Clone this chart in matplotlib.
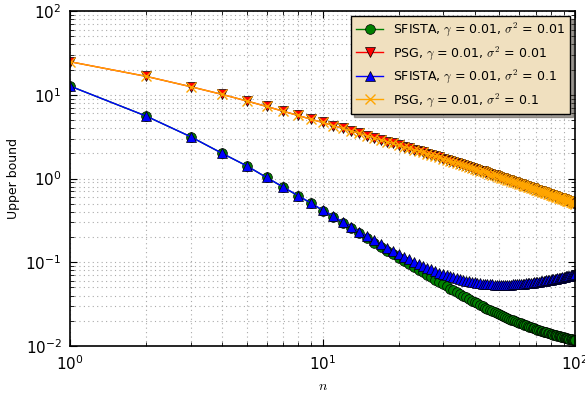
import numpy as np
import matplotlib
matplotlib.use('Agg')
import matplotlib.pyplot as plt

plt.rcParams['mathtext.fontset'] = 'cm'
plt.rcParams['xtick.direction'] = 'in'
plt.rcParams['ytick.direction'] = 'in'

# iteration counter n = 1..100
n = np.arange(1, 101)

# SFISTA, gamma = 0.01, sigma^2 = 0.01
sfista_001 = [
    12.7, 5.57, 3.16, 2.00, 1.42, 1.03, 0.785, 0.62, 0.505, 0.415,
    0.350, 0.297, 0.256, 0.222, 0.195, 0.172, 0.153, 0.137, 0.124, 0.113,
    0.1035, 0.0952, 0.0879, 0.0814, 0.0756, 0.0705, 0.0658, 0.0617, 0.0579, 0.0545,
    0.0514, 0.0486, 0.0461, 0.0438, 0.0417, 0.0398, 0.0380, 0.0364, 0.0349, 0.0335,
    0.0322, 0.0310, 0.0299, 0.0288, 0.0279, 0.0270, 0.0261, 0.0253, 0.0246, 0.0239,
    0.02328, 0.02269, 0.02214, 0.02161, 0.02112, 0.02064, 0.02019, 0.01976, 0.01936, 0.01898,
    0.01861, 0.01826, 0.01792, 0.01760, 0.01729, 0.01701, 0.01673, 0.01646, 0.01621, 0.01596,
    0.01573, 0.01550, 0.01529, 0.01508, 0.01488, 0.01470, 0.01451, 0.01434, 0.01417, 0.01401,
    0.01385, 0.01371, 0.01356, 0.01342, 0.01329, 0.01316, 0.01303, 0.01292, 0.01280, 0.01269,
    0.01258, 0.01249, 0.01239, 0.01229, 0.01220, 0.01212, 0.01203, 0.01195, 0.01187, 0.01179,
]

# SFISTA, gamma = 0.01, sigma^2 = 0.1
sfista_01 = [
    12.70, 5.57, 3.16, 2.00, 1.42, 1.03, 0.789, 0.625, 0.510, 0.421,
    0.357, 0.304, 0.264, 0.230, 0.204, 0.182, 0.163, 0.148, 0.135, 0.125,
    0.1161, 0.1084, 0.1017, 0.0958, 0.0906, 0.0861, 0.0820, 0.0785, 0.0753, 0.0725,
    0.0700, 0.0678, 0.0659, 0.0642, 0.0627, 0.0614, 0.0602, 0.0592, 0.0583, 0.0575,
    0.0568, 0.0562, 0.0557, 0.0552, 0.0549, 0.0546, 0.0543, 0.0541, 0.0540, 0.0539,
    0.0539, 0.0539, 0.0539, 0.0540, 0.0541, 0.0542, 0.0544, 0.0546, 0.0548, 0.0550,
    0.0552, 0.0555, 0.0557, 0.0560, 0.0563, 0.0566, 0.0569, 0.0573, 0.0576, 0.0580,
    0.0583, 0.0587, 0.0591, 0.0595, 0.0599, 0.0603, 0.0607, 0.0611, 0.0616, 0.0620,
    0.0625, 0.0629, 0.0634, 0.0638, 0.0643, 0.0648, 0.0652, 0.0657, 0.0662, 0.0667,
    0.0672, 0.0677, 0.0682, 0.0687, 0.0692, 0.0697, 0.0702, 0.0708, 0.0713, 0.0718,
]

# PSG, gamma = 0.01, sigma^2 = 0.01
psg_001 = [
    24.8, 16.6, 12.5, 10.1, 8.45, 7.25, 6.35, 5.66, 5.10, 4.67,
    4.295, 3.973, 3.698, 3.459, 3.249, 3.064, 2.900, 2.753, 2.621, 2.501,
    2.397, 2.302, 2.214, 2.134, 2.060, 1.984, 1.913, 1.847, 1.785, 1.728,
    1.674, 1.623, 1.576, 1.531, 1.488, 1.448, 1.410, 1.374, 1.340, 1.307,
    1.276, 1.246, 1.218, 1.191, 1.165, 1.139, 1.114, 1.091, 1.068, 1.046,
    1.025, 1.005, 0.985, 0.966, 0.948, 0.931, 0.914, 0.897, 0.882, 0.866,
    0.851, 0.837, 0.823, 0.810, 0.797, 0.784, 0.772, 0.760, 0.748, 0.737,
    0.726, 0.716, 0.705, 0.695, 0.685, 0.676, 0.667, 0.657, 0.649, 0.640,
    0.632, 0.623, 0.615, 0.608, 0.600, 0.592, 0.585, 0.578, 0.571, 0.564,
    0.557, 0.551, 0.545, 0.538, 0.532, 0.526, 0.520, 0.514, 0.509, 0.503,
]

# PSG, gamma = 0.01, sigma^2 = 0.1 (sits on top of the other PSG curve)
psg_01 = list(psg_001)

fig = plt.figure(figsize=(5.85, 3.99), dpi=100)
ax = fig.add_axes([0.1197, 0.1328, 0.8633, 0.8396])

ax.loglog(n, sfista_001, '-o', color='g', mec='k', mew=0.5, ms=7, lw=1,
          label=r'SFISTA, $\gamma$ = 0.01, $\sigma^2$ = 0.01')
ax.loglog(n, psg_001, '-v', color='r', mec='k', mew=0.5, ms=7, lw=1,
          label=r'PSG, $\gamma$ = 0.01, $\sigma^2$ = 0.01')
ax.loglog(n, sfista_01, '-^', color='b', mec='k', mew=0.5, ms=7, lw=1,
          label=r'SFISTA, $\gamma$ = 0.01, $\sigma^2$ = 0.1')
ax.loglog(n, psg_01, '-x', color='#FFA500', mec='#FFA500', mew=1, ms=7, lw=1,
          label=r'PSG, $\gamma$ = 0.01, $\sigma^2$ = 0.1')

ax.set_xlim(1, 100)
ax.set_ylim(1e-2, 1e2)
ax.grid(True, which='both', color='#aaaaaa', linestyle=(0, (1, 3)), linewidth=0.8)
ax.tick_params(which='both', top=True, right=True, labelsize=11)
ax.tick_params(which='major', length=5, pad=6)
ax.tick_params(which='minor', length=3)
for s in ax.spines.values():
    s.set_linewidth(1.2)

ax.set_xlabel('$n$', fontsize=10, labelpad=4)
ax.set_ylabel('Upper bound', fontsize=9)

leg = ax.legend(loc='upper right', fontsize=9, fancybox=False, shadow=True,
                framealpha=1, handlelength=2.2, borderaxespad=0.4)
leg.get_frame().set_facecolor('#f0e0bf')
leg.get_frame().set_edgecolor('k')

fig.savefig('out.png', dpi=100)
